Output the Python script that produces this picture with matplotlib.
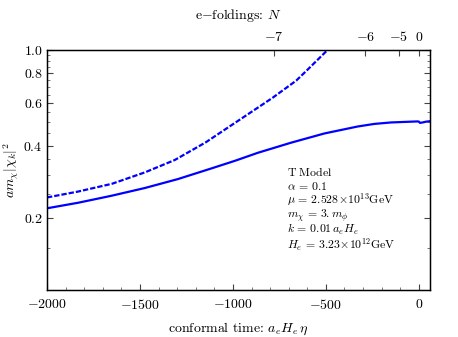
import numpy as np
import matplotlib
matplotlib.use("Agg")
import matplotlib.pyplot as plt
from matplotlib.ticker import FixedLocator, NullFormatter

plt.rcParams['mathtext.fontset'] = 'cm'
plt.rcParams['font.family'] = ['cmr10', 'DejaVu Serif']
plt.rcParams['axes.unicode_minus'] = False

# Data
eta_solid = [-2000, -1832, -1653, -1474, -1295, -1116, -991, -866, -687, -508, -329, -240, -150, -7, 0, 6, 20, 40, 60]
val_solid = [0.219, 0.231, 0.247, 0.266, 0.290, 0.321, 0.345, 0.373, 0.411, 0.449, 0.480, 0.492, 0.499, 0.504, 0.503, 0.497, 0.499, 0.503, 0.505]

eta_dash = [-2000, -1834, -1651, -1474, -1313, -1147, -964, -787, -660, -604, -491, -440]
val_dash = [0.243, 0.257, 0.277, 0.309, 0.348, 0.412, 0.512, 0.632, 0.745, 0.82, 1.0, 1.09]

xticks = [-2000, -1500, -1000, -500, 0]
yticks = [0.2, 0.4, 0.6, 0.8, 1.0]
top_pos = [-781, -289, -109, 0]
top_labels = ['-7', '-6', '-5', '0']

params_text = [
    r"$\mathrm{T\ Model}$",
    r"$\alpha\,=\,0.1$",
    r"$\mu\,=\,2.528\!\times\!10^{13}\mathrm{GeV}$",
    r"$m_\chi\,=\,3.m_\phi$",
    r"$k\,=\,0.01\,a_e H_e$",
    r"$H_e\,=\,3.23\!\times\!10^{12}\mathrm{GeV}$",
]
params_baseline_px = [176, 189.5, 203.5, 217.5, 233, 248.5]

fig = plt.figure(figsize=(4.58, 3.37), dpi=100)
ax = fig.add_axes([47/458, 1-290/337, (430-47)/458, (290-50)/337])

ax.plot(eta_solid, val_solid, color='#0000ff', lw=1.6)
ax.plot(eta_dash, val_dash, color='#0000ff', lw=1.6, ls=(0, (2.4, 0.9)))

ax.set_yscale('log')
ax.set_xlim(-2000, 60)
ax.set_ylim(0.1, 1.0)

ax.xaxis.set_major_locator(FixedLocator(xticks))
ax.xaxis.set_minor_locator(FixedLocator(np.arange(-2000, 1, 100)))
ax.set_xticklabels([f"${t}$" if t >= 0 else f"$-{-t}$" for t in xticks], fontsize=10)

ax.yaxis.set_major_locator(FixedLocator(yticks))
ax.yaxis.set_minor_locator(FixedLocator([0.1, 0.15, 0.25, 0.3, 0.35, 0.45, 0.5, 0.55, 0.65, 0.7, 0.75, 0.85, 0.9, 0.95]))
ax.yaxis.set_minor_formatter(NullFormatter())
ax.set_yticklabels([f"${t:.1f}$" for t in yticks], fontsize=10)

ax.tick_params(which='both', direction='in', top=False, right=True, color='#444444')
ax.tick_params(which='major', length=4, width=0.8)
ax.tick_params(axis='y', which='major', pad=3)
ax.tick_params(axis='x', which='major', pad=6)
ax.tick_params(which='minor', length=2, width=0.5)
for s in ax.spines.values():
    s.set_linewidth(1.0)

ax2 = ax.twiny()
ax2.set_xlim(ax.get_xlim())
ax2.xaxis.set_major_locator(FixedLocator(top_pos))
ax2.set_xticklabels([f"${l}$" for l in top_labels], fontsize=10)
ax2.tick_params(direction='in', length=4, width=0.8, pad=4, color='#444444')
ax2.xaxis.set_minor_locator(FixedLocator([]))

ax.set_xlabel(r"conformal time: $a_e H_e\,\eta$", fontsize=10, labelpad=6)
ax.set_ylabel(r"$am_\chi|\chi_k|^2$", fontsize=10)
ax.yaxis.set_label_coords(-0.068, 0.5)
ax2.set_xlabel(r"e$-$foldings: $N$", fontsize=10, labelpad=8)

for t, yb in zip(params_text, params_baseline_px):
    fig.text(287/458, 1-yb/337, t, fontsize=8.5, va='baseline', ha='left')

fig.savefig("out.png", dpi=100)
